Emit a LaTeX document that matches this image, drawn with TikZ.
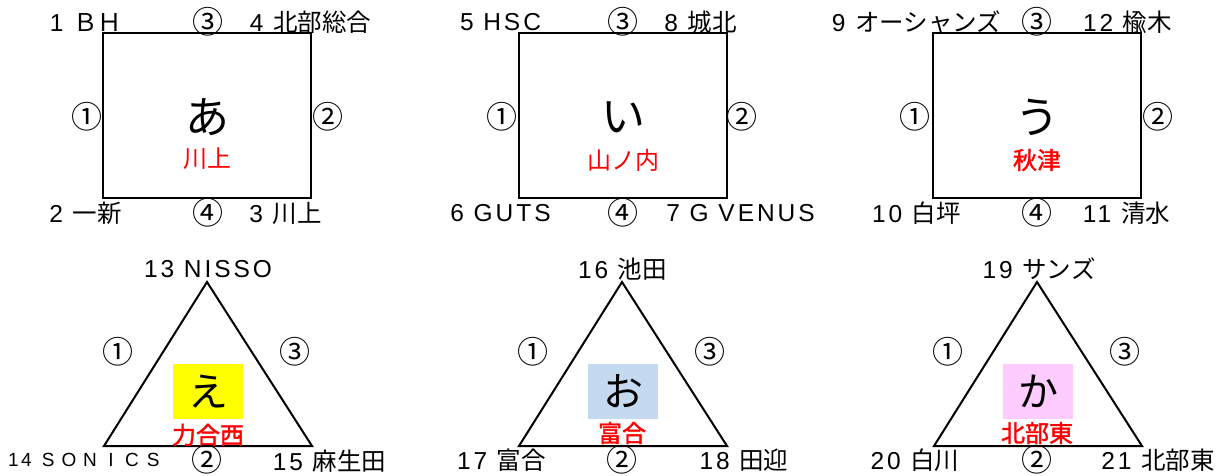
\documentclass[tikz,border=0pt]{standalone}
\usepackage{fontspec}
\setmainfont{Liberation Sans}[LetterSpace=12]
\newfontfamily\jp{Noto Sans CJK JP}
\newfontfamily\jpfb{Noto Sans CJK JP}[FakeBold=1.6]
\definecolor{hlblue}{HTML}{C5D9F1}
\definecolor{hlpink}{HTML}{FFCCFF}
\definecolor{hlyellow}{HTML}{FFFF00}
\definecolor{lblred}{HTML}{FF0000}
\newcommand\sonicletter[1]{\makebox[21pt][c]{#1}}
\begin{document}
\begin{tikzpicture}[x=1pt,y=-1pt,
  lab/.style={inner sep=0pt, font=\fontsize{24.5}{28}\selectfont},
  cn/.style={inner sep=0pt, font=\jp\fontsize{31}{34}\selectfont},
  hira/.style={inner sep=0pt, font=\jp\fontsize{44}{48}\selectfont},
  redl/.style={inner sep=0pt, text=lblred, font=\jp\fontsize{24}{28}\selectfont},
  redb/.style={inner sep=0pt, text=lblred, font=\jpfb\fontsize{24}{28}\selectfont},
  boxframe/.style={draw, line width=2pt, minimum width=208pt, minimum height=165pt, inner sep=0pt},
  tri/.style={draw, line width=2pt},
  hbox/.style={minimum width=70pt, minimum height=55pt, inner sep=0pt, font=\jp\fontsize{40}{44}\selectfont}]
\useasboundingbox (0,0) rectangle (1224,476);
\fill[white] (0,0) rectangle (1224,476);

% ---------- Box A ----------
\node[boxframe] (A) at (207,115.5) {};
\node[hira] (Ah) at (207,117) {あ};
\node[redl] (Ar) at (207,159) {川上};
\node[lab] (A1) at (86,22) {1 {\jp ＢＨ}};
\node[cn]  (Ac3) at (208,22) {③};
\node[lab] (A4) at (310.5,22) {4 {\jp 北部総合}};
\node[cn]  (Ac1) at (87,117) {①};
\node[cn]  (Ac2) at (328,117) {②};
\node[lab] (A2) at (85.5,213) {2 {\jp 一新}};
\node[cn]  (Ac4) at (208,213) {④};
\node[lab] (A3) at (285.5,213) {3 {\jp 川上}};

% ---------- Box I ----------
\node[boxframe] (B) at (622.5,115.5) {};
\node[hira] (Bh) at (623,117) {い};
\node[redl] (Br) at (623,160) {山ノ内};
\node[lab] (B5) at (500.5,22) {5 HSC};
\node[cn]  (Bc3) at (623,22) {③};
\node[lab] (B8) at (700.5,22) {8 {\jp 城北}};
\node[cn]  (Bc1) at (502,117) {①};
\node[cn]  (Bc2) at (742,117) {②};
\node[lab] (B6) at (500.5,213) {6 GUTS};
\node[cn]  (Bc4) at (623,213) {④};
\node[lab] (B7) at (740.5,213) {7 G VENUS};

% ---------- Box U ----------
\node[boxframe] (C) at (1037,115.5) {};
\node[hira] (Ch) at (1037,117) {う};
\node[redb] (Cr) at (1037,160) {秋津};
\node[lab] (C9) at (916.5,22) {9 {\jp オーシャンズ}};
\node[cn]  (Cc3) at (1037,22) {③};
\node[lab] (C12) at (1127.5,22) {12 {\jp 楡木}};
\node[cn]  (Cc1) at (915,117) {①};
\node[cn]  (Cc2) at (1158,117) {②};
\node[lab] (C10) at (916.5,213) {10 {\jp 白坪}};
\node[cn]  (Cc4) at (1037,213) {④};
\node[lab] (C11) at (1126.5,213) {11 {\jp 清水}};

% ---------- Triangle E ----------
\coordinate (Ta) at (207,282);
\coordinate (Tb) at (104,446);
\coordinate (Tc) at (312,446);
\draw[tri] (Ta) -- (Tb) -- (Tc) -- cycle;
\node[hbox, fill=hlyellow] (Th) at (208,391.5) {え};
\node[redb] (Tr) at (208,435) {力合西};
\node[lab] (T13) at (208,269) {13 NISSO};
\node[cn]  (Tc1) at (118,352) {①};
\node[cn]  (Tc3) at (295,352) {③};
\node[inner sep=0pt, anchor=west, font=\fontsize{19}{21}\selectfont] (T14) at (8,460)
  {14\hspace{6pt}\sonicletter{S}\sonicletter{O}\sonicletter{N}\sonicletter{I}\sonicletter{C}\sonicletter{S}};
\node[cn]  (Tc2) at (207,460) {②};
\node[lab] (T15) at (329.5,461) {15 {\jp 麻生田}};

% ---------- Triangle O ----------
\coordinate (Oa) at (622,282);
\coordinate (Ob) at (519,446);
\coordinate (Oc) at (727,446);
\draw[tri] (Oa) -- (Ob) -- (Oc) -- cycle;
\node[hbox, fill=hlblue] (Oh) at (623,391.5) {お};
\node[redb] (Or) at (622,433) {富合};
\node[lab] (O16) at (622.5,269) {16 {\jp 池田}};
\node[cn]  (Oc1) at (533,352) {①};
\node[cn]  (Oc3) at (710,352) {③};
\node[lab] (O17) at (501.5,460) {17 {\jp 富合}};
\node[cn]  (Oc2) at (622,460) {②};
\node[lab] (O18) at (744,460) {18 {\jp 田迎}};

% ---------- Triangle KA ----------
\coordinate (Ka) at (1037,282);
\coordinate (Kb) at (934,446);
\coordinate (Kc) at (1142,446);
\draw[tri] (Ka) -- (Kb) -- (Kc) -- cycle;
\node[hbox, fill=hlpink] (Kh) at (1038,391.5) {か};
\node[redb] (Kr) at (1037,433) {北部東};
\node[lab] (K19) at (1039,269) {19 {\jp サンズ}};
\node[cn]  (Kc1) at (948,352) {①};
\node[cn]  (Kc3) at (1125,352) {③};
\node[lab] (K20) at (915,460) {20 {\jp 白川}};
\node[cn]  (Kc2) at (1037,460) {②};
\node[lab] (K21) at (1158,460) {21 {\jp 北部東}};
\end{tikzpicture}
\end{document}
